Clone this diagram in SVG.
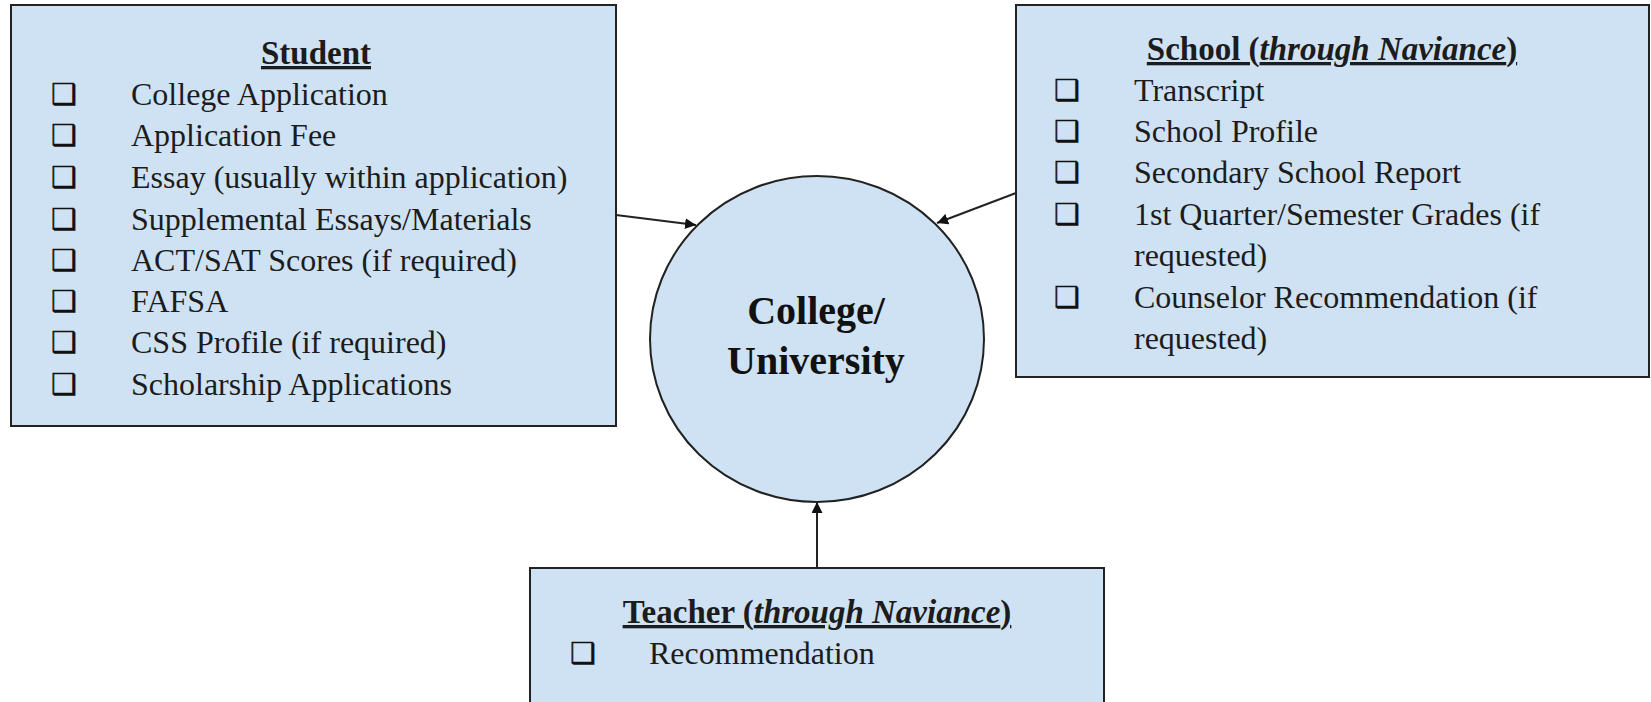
<svg xmlns="http://www.w3.org/2000/svg" width="1651" height="702" viewBox="0 0 1651 702">
<style>
.box{fill:#cfe2f3;stroke:#222;stroke-width:2}
.t{font-family:"Liberation Serif",serif;font-size:32px;fill:#1c1c1c}
.h{font-family:"Liberation Serif",serif;font-size:33px;font-weight:bold;fill:#1c1c1c;text-decoration:underline}
.cb{font-family:"DejaVu Sans",sans-serif;font-size:29px;fill:#111;stroke:#111;stroke-width:0.5}
.c{font-family:"Liberation Serif",serif;font-size:40px;font-weight:bold;fill:#111;text-anchor:middle}
.ln{stroke:#222;stroke-width:2;fill:none}
</style>
<defs>
<marker id="ah" viewBox="0 0 10 10" refX="10" refY="5" markerWidth="11" markerHeight="11" markerUnits="userSpaceOnUse" orient="auto">
<path d="M0,0 L10,5 L0,10 z" fill="#111"/>
</marker>
</defs>
<rect x="0" y="0" width="1651" height="702" fill="#fff"/>
<g id="student">
<rect class="box" x="11" y="5" width="605" height="421"/>
<text class="h" x="316" y="64" text-anchor="middle">Student</text>
<text class="cb" x="51" y="104">❑</text><text class="t" x="131" y="105">College Application</text>
<text class="cb" x="51" y="145">❑</text><text class="t" x="131" y="146">Application Fee</text>
<text class="cb" x="51" y="187">❑</text><text class="t" x="131" y="188">Essay (usually within application)</text>
<text class="cb" x="51" y="229">❑</text><text class="t" x="131" y="230">Supplemental Essays/Materials</text>
<text class="cb" x="51" y="270">❑</text><text class="t" x="131" y="271">ACT/SAT Scores (if required)</text>
<text class="cb" x="51" y="311">❑</text><text class="t" x="131" y="312">FAFSA</text>
<text class="cb" x="51" y="352">❑</text><text class="t" x="131" y="353">CSS Profile (if required)</text>
<text class="cb" x="51" y="394">❑</text><text class="t" x="131" y="395">Scholarship Applications</text>
</g>
<g id="school">
<rect class="box" x="1016" y="5" width="633" height="372"/>
<text class="h" x="1332" y="60" text-anchor="middle">School (<tspan font-style="italic">through Naviance</tspan>)</text>
<text class="cb" x="1054" y="100">❑</text><text class="t" x="1134" y="101">Transcript</text>
<text class="cb" x="1054" y="141">❑</text><text class="t" x="1134" y="142">School Profile</text>
<text class="cb" x="1054" y="182">❑</text><text class="t" x="1134" y="183">Secondary School Report</text>
<text class="cb" x="1054" y="224">❑</text><text class="t" x="1134" y="225">1st Quarter/Semester Grades (if</text>
<text class="t" x="1134" y="266">requested)</text>
<text class="cb" x="1054" y="307">❑</text><text class="t" x="1134" y="308">Counselor Recommendation (if</text>
<text class="t" x="1134" y="349">requested)</text>
</g>
<g id="college">
<ellipse cx="817" cy="339" rx="167" ry="163" fill="#cfe2f3" stroke="#222" stroke-width="2"/>
<text class="c" x="816" y="324">College/</text>
<text class="c" x="816" y="374">University</text>
</g>
<g id="teacher">
<rect class="box" x="530" y="568" width="574" height="140"/>
<text class="h" x="817" y="623" text-anchor="middle">Teacher (<tspan font-style="italic">through Naviance</tspan>)</text>
<text class="cb" x="570" y="663">❑</text><text class="t" x="649" y="664">Recommendation</text>
</g>
<g id="connectors">
<line class="ln" x1="616" y1="215" x2="696" y2="225" marker-end="url(#ah)"/>
<line class="ln" x1="1016" y1="193" x2="937" y2="223" marker-end="url(#ah)"/>
<line class="ln" x1="817" y1="568" x2="817" y2="502" marker-end="url(#ah)"/>
</g>
</svg>
